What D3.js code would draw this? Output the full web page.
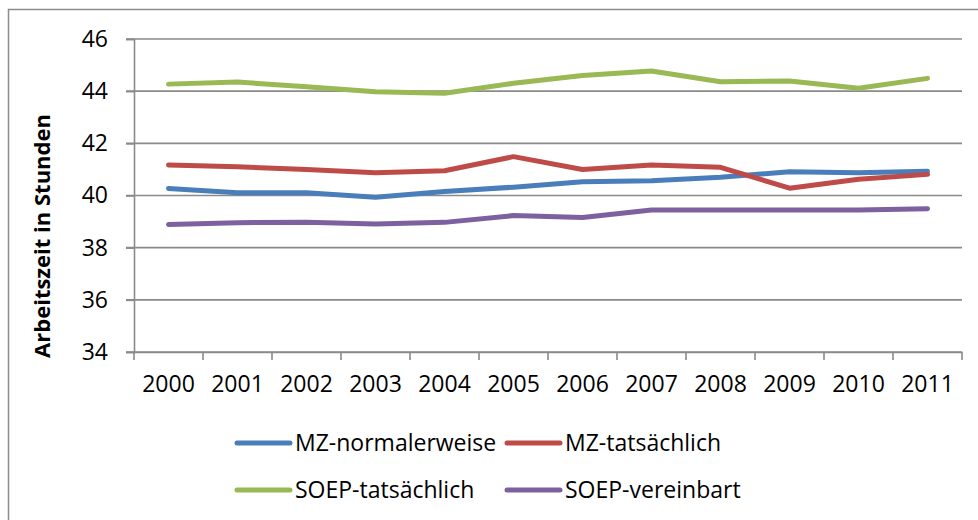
<!DOCTYPE html>
<html>
<head>
<meta charset="utf-8">
<script src="https://cdn.jsdelivr.net/npm/d3@7"></script>
<style>
  body { margin: 0; background: #fff; }
  svg { display: block; font-family: "Open Sans", sans-serif; }
</style>
</head>
<body>
<div id="chart"></div>
<script>
// years on the x axis
var years = ["2000", "2001", "2002", "2003", "2004", "2005", "2006", "2007", "2008", "2009", "2010", "2011"];

// series values (hours per week)
var mzNormal  = [40.27, 40.11, 40.11, 39.93, 40.15, 40.32, 40.53, 40.57, 40.70, 40.91, 40.87, 40.93];
var mzTats    = [41.17, 41.10, 41.00, 40.87, 40.95, 41.49, 41.00, 41.17, 41.08, 40.28, 40.62, 40.81];
var soepTats  = [44.27, 44.35, 44.17, 43.98, 43.92, 44.30, 44.60, 44.77, 44.36, 44.39, 44.11, 44.49];
var soepVer   = [38.89, 38.96, 38.97, 38.91, 38.97, 39.23, 39.16, 39.44, 39.44, 39.44, 39.44, 39.49];

var yTicks = [34, 36, 38, 40, 42, 44, 46];

var series = [
    {name: "MZ-normalerweise", values: mzNormal, color: "#4a7ebb"},
    {name: "MZ-tatsächlich", values: mzTats, color: "#be4b48"},
    {name: "SOEP-tatsächlich", values: soepTats, color: "#98b954"},
    {name: "SOEP-vereinbart", values: soepVer, color: "#7d60a0"}
];

var width = 978,
    height = 520;

var plot = {left: 134, right: 962, top: 39, bottom: 352};
var gridColor = "#8a8a8a";
var fontSize = 23;

var svg = d3.select("#chart").append("svg")
    .attr("width", width)
    .attr("height", height);

// outer chart frame
svg.append("rect")
    .attr("x", 8.5).attr("y", 9.5)
    .attr("width", 980).attr("height", 530)
    .attr("fill", "none")
    .attr("stroke", "#8c8c8c")
    .attr("stroke-width", 1.5);

var x = d3.scaleBand()
    .domain(years)
    .range([plot.left, plot.right])
    .padding(0);

var y = d3.scaleLinear()
    .domain([34, 46])
    .range([plot.bottom, plot.top]);

// horizontal gridlines
svg.append("g")
    .selectAll("line")
    .data(yTicks)
    .enter().append("line")
    .attr("x1", plot.left - 8)
    .attr("x2", plot.right)
    .attr("y1", function(d) { return y(d); })
    .attr("y2", function(d) { return y(d); })
    .attr("stroke", gridColor)
    .attr("stroke-width", 1.6);

// y axis
var yAxis = svg.append("g")
    .attr("transform", "translate(" + plot.left + ",0)")
    .call(d3.axisLeft(y).tickValues(yTicks).tickSize(8).tickPadding(18).tickFormat(d3.format("d")));
yAxis.select(".domain").attr("stroke", gridColor).attr("stroke-width", 1.6);
yAxis.selectAll(".tick line").attr("stroke", gridColor).attr("stroke-width", 1.6);
yAxis.selectAll("text")
    .attr("font-size", fontSize)
    .attr("font-family", "Open Sans, sans-serif")
    .attr("fill", "#000");

// x axis: labels centred in each band, ticks on band edges
var xAxis = svg.append("g")
    .attr("transform", "translate(0," + plot.bottom + ")")
    .call(d3.axisBottom(x).tickSize(0).tickPadding(24));
xAxis.select(".domain").attr("stroke", gridColor).attr("stroke-width", 1.6);
xAxis.selectAll("text")
    .attr("font-size", fontSize)
    .attr("font-family", "Open Sans, sans-serif")
    .attr("fill", "#000");

var edges = years.map(function(d) { return x(d); }).concat([x(years[years.length - 1]) + x.bandwidth()]);
svg.append("g")
    .selectAll("line")
    .data(edges)
    .enter().append("line")
    .attr("x1", function(d) { return d; })
    .attr("x2", function(d) { return d; })
    .attr("y1", plot.bottom)
    .attr("y2", plot.bottom + 8)
    .attr("stroke", gridColor)
    .attr("stroke-width", 1.6);

// y axis title
svg.append("text")
    .attr("transform", "translate(50,236) rotate(-90)")
    .attr("text-anchor", "middle")
    .attr("font-size", 22)
    .attr("font-weight", "bold")
    .attr("fill", "#000")
    .text("Arbeitszeit in Stunden");

// lines
var line = d3.line()
    .x(function(d, i) { return x(years[i]) + x.bandwidth() / 2; })
    .y(function(d) { return y(d); });

svg.append("g")
    .selectAll("path")
    .data(series)
    .enter().append("path")
    .attr("d", function(d) { return line(d.values); })
    .attr("fill", "none")
    .attr("stroke", function(d) { return d.color; })
    .attr("stroke-width", 5)
    .attr("stroke-linecap", "round")
    .attr("stroke-linejoin", "round");

// legend, two rows of two
var legendPos = [
    {x: 237, y: 443}, {x: 507, y: 443},
    {x: 237, y: 490}, {x: 507, y: 490}
];

var legend = svg.append("g")
    .selectAll("g")
    .data(series)
    .enter().append("g")
    .attr("transform", function(d, i) { return "translate(" + legendPos[i].x + "," + legendPos[i].y + ")"; });

legend.append("line")
    .attr("x1", 0).attr("x2", 53)
    .attr("y1", 0).attr("y2", 0)
    .attr("stroke", function(d) { return d.color; })
    .attr("stroke-width", 5)
    .attr("stroke-linecap", "round");

legend.append("text")
    .attr("x", 58)
    .attr("y", 0)
    .attr("dy", "0.35em")
    .attr("font-size", fontSize)
    .attr("fill", "#000")
    .text(function(d) { return d.name; });
</script>
</body>
</html>
